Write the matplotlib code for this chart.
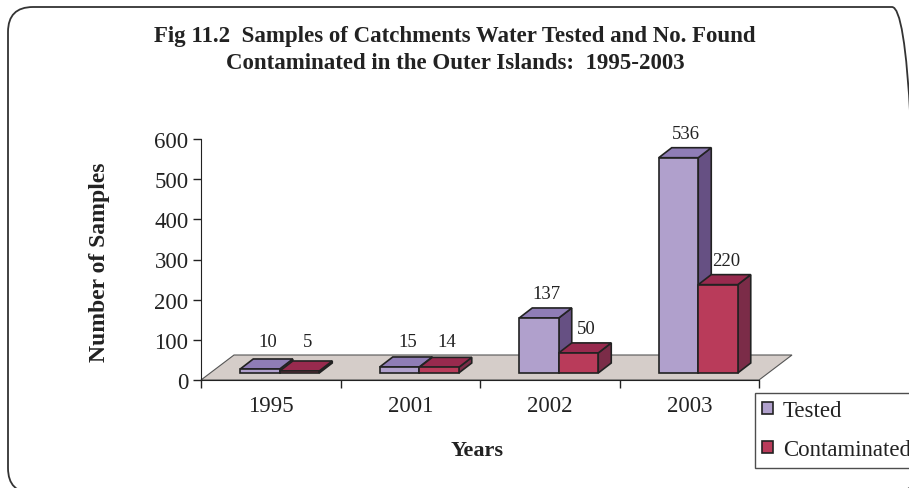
import matplotlib.pyplot as plt
import matplotlib.transforms as mtransforms
import numpy as np
from matplotlib.patches import Polygon, FancyBboxPatch, Patch

years = ['1995', '2001', '2002', '2003']
tested = [10, 15, 137, 536]
contaminated = [5, 14, 50, 220]
series_names = ['Tested', 'Contaminated']

plt.rcParams['font.family'] = ['Liberation Serif', 'DejaVu Serif']
ink = '#222222'

# colours: front, top, side
tested_cols = ('#b0a0cc', '#8f7db6', '#665083')
contam_cols = ('#b93b5a', '#982a4e', '#7b2c48')

W, H = 909, 489
fig = plt.figure(figsize=(W / 100, H / 100), dpi=100)

# rounded chart frame in pixel units (runs off the right/bottom edge)
frame = FancyBboxPatch((8, H - 494), 909, 486,
                       boxstyle='round,pad=0,rounding_size=25',
                       transform=mtransforms.IdentityTransform(),
                       fill=False, edgecolor='#333333', lw=1.3)
fig.patches.append(frame)

ax = fig.add_axes([201 / W, 1 - 381 / H, 558 / W, 241 / H])
ncat = len(years)
ax.set_xlim(0, ncat)
ax.set_ylim(0, 600)

# pixel -> data conversions for the fake 3d depth
px_x = ncat / 558
px_y = 600 / 241
fdx, fdy = 33 * px_x, 25 * px_y      # floor depth
bdx, bdy = 13 * px_x, 10 * px_y      # bar depth
ox, oy = 9 * px_x, 7 * px_y          # bar offset into floor
bw = 39.5 * px_x                     # bar width

floor = Polygon([(0, 0), (ncat, 0), (ncat + fdx, fdy), (fdx, fdy)],
                closed=True, facecolor='#d5cdc9', edgecolor='#555555',
                lw=0.8, clip_on=False, zorder=1)
ax.add_patch(floor)

z = 2
for i in range(ncat):
    for s, (vals, cols) in enumerate([(tested, tested_cols), (contaminated, contam_cols)]):
        v = vals[i]
        x0 = i + 0.5 + ox - bw + s * bw
        y0 = oy
        top = y0 + v
        side = Polygon([(x0 + bw, y0), (x0 + bw + bdx, y0 + bdy),
                        (x0 + bw + bdx, top + bdy), (x0 + bw, top)],
                       closed=True, facecolor=cols[2], edgecolor=ink,
                       lw=1.2, clip_on=False, zorder=z)
        lid = Polygon([(x0, top), (x0 + bw, top), (x0 + bw + bdx, top + bdy),
                       (x0 + bdx, top + bdy)],
                      closed=True, facecolor=cols[1], edgecolor=ink,
                      lw=1.2, clip_on=False, zorder=z)
        ax.add_patch(side)
        ax.add_patch(lid)
        ax.bar(x0, v, width=bw, bottom=y0, align='edge', color=cols[0],
               edgecolor=ink, lw=1.2, clip_on=False, zorder=z + 1)
        z += 2
        ly = max(top + bdy, 60)
        ax.annotate(str(v), (x0 + bw / 2 + bdx * 0.6, ly), xytext=(0, 4),
                    textcoords='offset points', ha='center', va='bottom',
                    fontsize=13.5, color=ink, zorder=50)

for sp in ['top', 'right']:
    ax.spines[sp].set_visible(False)
ax.spines['left'].set_color(ink)
ax.spines['bottom'].set_color(ink)
ax.spines['left'].set_zorder(60)

ax.set_yticks(np.arange(0, 601, 100))
ax.tick_params(axis='y', length=6, width=1, color=ink, labelsize=16.5,
               labelcolor=ink, pad=3)
ax.set_xticks(np.arange(ncat + 1))
ax.set_xticklabels([])
ax.set_xticks(np.arange(ncat) + 0.5, minor=True)
ax.set_xticklabels(years, minor=True)
ax.tick_params(axis='x', which='major', length=6, width=1, color=ink)
ax.tick_params(axis='x', which='minor', length=0, labelsize=16.5,
               labelcolor=ink, pad=11)

fig.text(455 / W, 1 - 50 / H,
         'Fig 11.2  Samples of Catchments Water Tested and No. Found\n'
         'Contaminated in the Outer Islands:  1995-2003',
         ha='center', va='center', fontsize=16.5, fontweight='bold',
         color=ink, linespacing=1.35)
fig.text(100 / W, 1 - 262 / H, 'Number of Samples', rotation=90,
         ha='center', va='center', fontsize=17, fontweight='bold', color=ink)
fig.text(477 / W, 1 - 451 / H, 'Years', ha='center', va='center',
         fontsize=16, fontweight='bold', color=ink)

handles = [Patch(facecolor=tested_cols[0], edgecolor=ink, lw=1.2),
           Patch(facecolor=contam_cols[0], edgecolor=ink, lw=1.2)]
leg = fig.legend(handles, series_names, loc='upper left',
                 bbox_to_anchor=(755 / W, 1 - 394 / H), fontsize=16.5,
                 frameon=True, fancybox=False, borderaxespad=0,
                 handlelength=0.45, handleheight=0.45, handletextpad=0.45,
                 labelspacing=0.78, borderpad=0.32)
leg.get_frame().set_edgecolor(ink)
leg.get_frame().set_linewidth(1.0)
for t in leg.get_texts():
    t.set_color(ink)

fig.savefig('out.png', dpi=100)
